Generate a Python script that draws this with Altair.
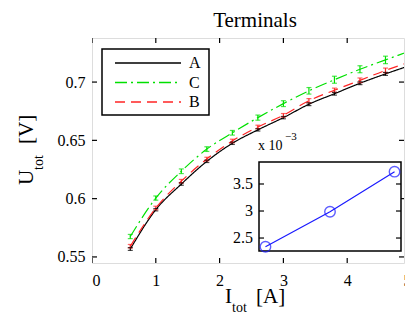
import altair as alt
import pandas as pd

# ---------------- data ----------------
x_vals = [0.6, 1.0, 1.4, 1.8, 2.2, 2.6, 3.0, 3.4, 3.8, 4.2, 4.6, 5.0]
series_order = ["A", "C", "B"]
A_vals = [0.5568, 0.5905, 0.6125, 0.632, 0.6475, 0.659, 0.6695, 0.681, 0.690, 0.699, 0.707, 0.7145]
B_vals = [0.5592, 0.592, 0.615, 0.634, 0.6495, 0.6615, 0.6715, 0.684, 0.693, 0.7015, 0.710, 0.7175]
C_vals = [0.5675, 0.6005, 0.6235, 0.6425, 0.6565, 0.6695, 0.6815, 0.6925, 0.702, 0.711, 0.719, 0.727]
A_err = [0.0012, 0.001, 0.001, 0.001, 0.001, 0.001, 0.001, 0.0012, 0.0012, 0.0012, 0.0013, 0.0013]
B_err = [0.0015, 0.0015, 0.0015, 0.0015, 0.0015, 0.0015, 0.0015, 0.0018, 0.0018, 0.002, 0.002, 0.002]
C_err = [0.0018, 0.0018, 0.002, 0.002, 0.002, 0.0022, 0.0025, 0.0028, 0.003, 0.003, 0.0032, 0.0035]

x_ticks = [0, 1, 2, 3, 4, 5]
y_ticks = [0.55, 0.6, 0.65, 0.7]

inset_x = [1, 2, 3]
inset_y = [2.339, 2.987, 3.728]
inset_yticks = [2.5, 3, 3.5]

colors = ["#000000", "#00e000", "#ff2424"]
dashes = [[1, 0], [12, 4, 2, 4], [10, 6]]

# ---------------- frames ----------------
rows = []
for name, vals, errs in (("A", A_vals, A_err), ("B", B_vals, B_err), ("C", C_vals, C_err)):
    for xv, yv, ev in zip(x_vals, vals, errs):
        rows.append({"series": name, "x": xv, "y": yv, "lo": yv - ev, "hi": yv + ev})
df = pd.DataFrame(rows)
df_xt = pd.DataFrame({"t": x_ticks})
df_yt = pd.DataFrame({"t": y_ticks})
df_inset = pd.DataFrame({"x": inset_x, "y": inset_y})
df_iyt = pd.DataFrame({"t": inset_yticks})

# the original figure is cut at its right edge: the x scale runs past the view
W, H = 312, 225
XRANGE = 319
FONT = "Liberation Serif"
XDOM = [0, 5]
YDOM = [0.5448, 0.7378]

xs = alt.Scale(domain=XDOM, range=[0, XRANGE], nice=False, zero=False)
ys = alt.Scale(domain=YDOM, nice=False, zero=False)
xaxis = alt.Axis(values=x_ticks, format="d", ticks=False, domain=False, grid=False,
                 labelPadding=9, title=None, labelFont=FONT, labelFontSize=16,
                 labelColor="black")
yaxis = alt.Axis(values=y_ticks, format="~g", ticks=False, domain=False, grid=False,
                 labelPadding=7, title=None, labelFont=FONT, labelFontSize=16,
                 labelColor="black")

cscale = alt.Scale(domain=series_order, range=colors)
color_enc = alt.Color("series:N", scale=cscale, legend=None)
dash_enc = alt.StrokeDash("series:N", scale=alt.Scale(domain=series_order, range=dashes),
                          legend=None)

base = alt.Chart(df)
X = alt.X("x:Q", scale=xs, axis=xaxis)
lines = base.mark_line(strokeWidth=1.2, clip=True, interpolate="monotone").encode(
    x=X, y=alt.Y("y:Q", scale=ys, axis=yaxis),
    color=color_enc, strokeDash=dash_enc, order=alt.Order("x:Q"),
)
err_rules = base.mark_rule(strokeWidth=1.2, clip=True).encode(
    x=X, y=alt.Y("lo:Q", scale=ys, axis=yaxis), y2="hi:Q", color=color_enc)
cap_lo = base.mark_tick(orient="horizontal", size=5, thickness=1.2, clip=True).encode(
    x=X, y=alt.Y("lo:Q", scale=ys, axis=yaxis), color=color_enc)
cap_hi = base.mark_tick(orient="horizontal", size=5, thickness=1.2, clip=True).encode(
    x=X, y=alt.Y("hi:Q", scale=ys, axis=yaxis), color=color_enc)

# inward ticks on the frame
tx = alt.Chart(df_xt)
ty = alt.Chart(df_yt)
tl = 5
xt_bot = tx.mark_rule(color="black", strokeWidth=1.2, clip=True).encode(
    x=alt.X("t:Q", scale=xs, axis=xaxis), y=alt.value(H), y2=alt.value(H - tl))
xt_top = tx.mark_rule(color="black", strokeWidth=1.2, clip=True).encode(
    x=alt.X("t:Q", scale=xs, axis=xaxis), y=alt.value(0), y2=alt.value(tl))
yt_left = ty.mark_rule(color="black", strokeWidth=1.2).encode(
    y=alt.Y("t:Q", scale=ys, axis=yaxis), x=alt.value(0), x2=alt.value(tl))
yt_right = ty.mark_rule(color="black", strokeWidth=1.2).encode(
    y=alt.Y("t:Q", scale=ys, axis=yaxis), x=alt.value(W), x2=alt.value(W - tl))

# titles as text (with subscripts)
def txt(s, x, y, size, angle=0, align="left", baseline="alphabetic"):
    return alt.Chart(pd.DataFrame({"s": [s]})).mark_text(
        font=FONT, fontSize=size, color="black", align=align, baseline=baseline,
        angle=angle).encode(x=alt.value(x), y=alt.value(y), text="s:N")

title = txt("Terminals", 163, -11, 21, align="center")
xl1 = txt("I", 133, 265, 21)
xl2 = txt("tot", 140, 274, 14)
xl3 = txt("[A]", 164, 265, 21)
yl1 = txt("U", -59, 147, 21, angle=270)
yl2 = txt("tot", -49, 132, 14, angle=270)
yl3 = txt("[V]", -59, 106, 21, angle=270)

# legend (drawn box, sample lines and labels)
leg_box = alt.Chart(pd.DataFrame({"a": [0]})).mark_rect(
    fill="white", stroke="black", strokeWidth=1.5).encode(
    x=alt.value(10), x2=alt.value(117), y=alt.value(11), y2=alt.value(77))
leg_items = []
for i, (name, col, dsh) in enumerate(zip(series_order, colors, dashes)):
    yy = 25 + i * 19.5
    leg_items.append(alt.Chart(pd.DataFrame({"a": [0]})).mark_rule(
        color=col, strokeWidth=1.3, strokeDash=dsh).encode(
        x=alt.value(23), x2=alt.value(89), y=alt.value(yy)))
    leg_items.append(txt(name, 97, yy, 16, baseline="middle"))

main = alt.layer(lines, err_rules, cap_lo, cap_hi, xt_bot, xt_top, yt_left, yt_right,
                 title, xl1, xl2, xl3, yl1, yl2, yl3, leg_box, *leg_items)

# ---------------- inset ----------------
IXD = [0.9, 3.1]
IYD = [2.26, 3.907]
ixs = alt.Scale(domain=IXD, range=[167, 309], nice=False, zero=False)
iys = alt.Scale(domain=IYD, range=[213, 124], nice=False, zero=False)

iframe = alt.Chart(pd.DataFrame({"a": [0]})).mark_rect(
    fill="white", stroke="black", strokeWidth=1.5).encode(
    x=alt.X(datum=IXD[0], scale=ixs, axis=None),
    x2=alt.datum(IXD[1]),
    y=alt.Y(datum=IYD[0], scale=iys, axis=None),
    y2=alt.datum(IYD[1]),
)
ibase = alt.Chart(df_inset)
iline = ibase.mark_line(color="#1a1aff", strokeWidth=1.2).encode(
    x=alt.X("x:Q", scale=ixs, axis=None), y=alt.Y("y:Q", scale=iys, axis=None))
ipts = ibase.mark_point(shape="circle", size=110, filled=False, color="#1a1aff",
                        strokeWidth=1.4).encode(
    x=alt.X("x:Q", scale=ixs, axis=None), y=alt.Y("y:Q", scale=iys, axis=None))
it = alt.Chart(df_iyt)
it_left = it.mark_rule(color="black", strokeWidth=1.2, x2Offset=5).encode(
    y=alt.Y("t:Q", scale=iys, axis=None), x=alt.X(datum=IXD[0], scale=ixs, axis=None),
    x2=alt.datum(IXD[0]))
it_right = it.mark_rule(color="black", strokeWidth=1.2, x2Offset=-5).encode(
    y=alt.Y("t:Q", scale=iys, axis=None), x=alt.X(datum=IXD[1], scale=ixs, axis=None),
    x2=alt.datum(IXD[1]))
it_lab = it.mark_text(font=FONT, fontSize=16, color="black", align="right",
                      baseline="middle", dx=-6).encode(
    y=alt.Y("t:Q", scale=iys, axis=None), x=alt.X(datum=IXD[0], scale=ixs, axis=None),
    text=alt.Text("t:Q", format="~g"))
exp1 = txt("x 10", 166, 112, 14)
exp2 = txt("\u22123", 193, 102, 11)

inset = alt.layer(iframe, iline, ipts, it_left, it_right, it_lab, exp1, exp2)

chart = alt.layer(main, inset).resolve_scale(
    x="independent", y="independent"
).properties(
    width=W, height=H,
    autosize=alt.AutoSizeParams(type="none"),
    padding={"left": 84, "top": 30, "right": 1, "bottom": 51},
).configure_view(
    stroke="black", strokeWidth=1.5
).configure_axis(
    labelFont=FONT, labelFontSize=16, labelColor="black"
).configure(background="white")

chart.save("out.html", embed_options={"renderer": "svg", "actions": False})
